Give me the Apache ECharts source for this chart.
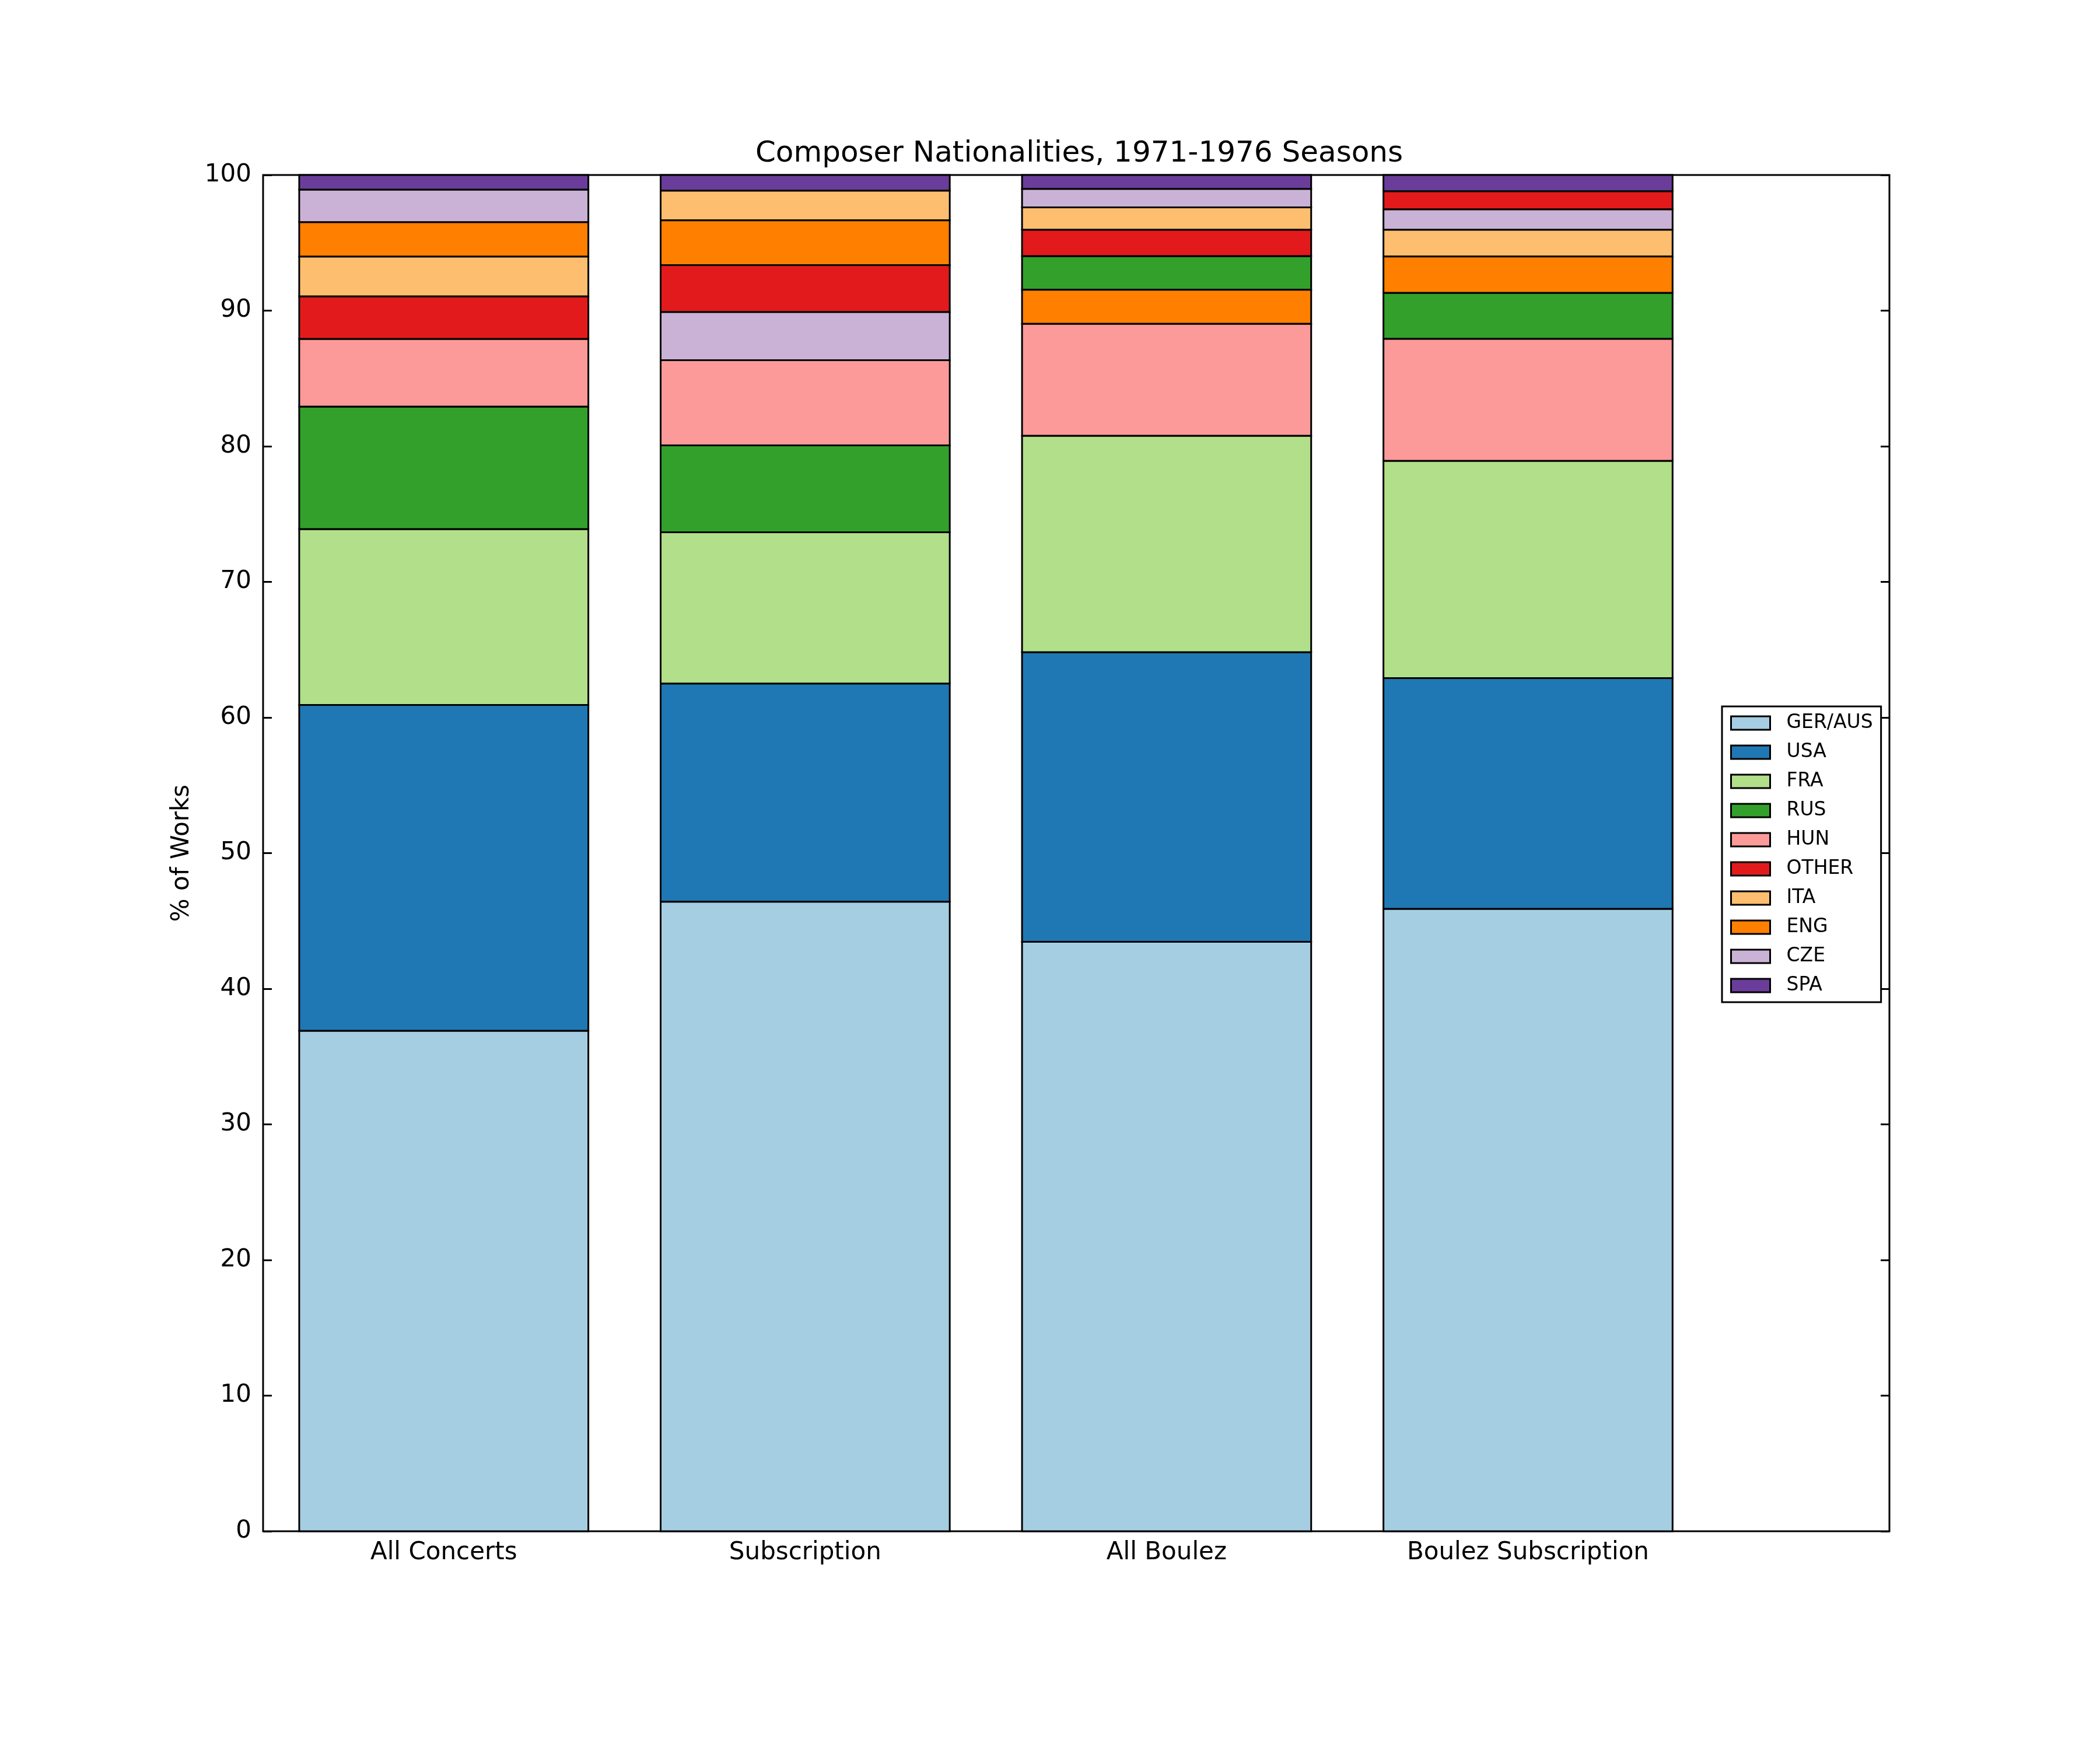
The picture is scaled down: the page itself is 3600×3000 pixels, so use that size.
<!DOCTYPE html>
<html lang="en">

<head>
  <meta charset="UTF-8">
  <title>Composer Nationalities</title>
  <script src="https://cdn.jsdelivr.net/npm/echarts@6/dist/echarts.min.js"></script>
  <style>
    html, body { margin: 0; padding: 0; background: #fff; }
    #main { width: 3600px; height: 3000px; }
  </style>
</head>

<body>
  <div id="main"></div>

  <script>
    // categories along x
    let categories = ['All Concerts', 'Subscription', 'All Boulez', 'Boulez Subscription']

    // % of works per nationality, one value per category
    let gerAus = [36.90, 46.42, 43.46, 45.89]
    let usa    = [24.02, 16.09, 21.36, 17.01]
    let fra    = [12.97, 11.15, 15.95, 16.02]
    let rus    = [9.03, 6.40, 2.48, 3.40]
    let hun    = [4.99, 6.28, 8.26, 8.99]
    let other  = [3.14, 3.46, 1.95, 1.35]
    let ita    = [2.94, 2.19, 1.64, 1.98]
    let eng    = [2.54, 3.31, 2.51, 2.68]
    let cze    = [2.40, 3.55, 1.37, 1.49]
    let spa    = [1.07, 1.15, 1.02, 1.19]

    let names = ['GER/AUS', 'USA', 'FRA', 'RUS', 'HUN', 'OTHER', 'ITA', 'ENG', 'CZE', 'SPA']
    let values = [gerAus, usa, fra, rus, hun, other, ita, eng, cze, spa]
    let colors = ['#a6cee3', '#1f78b4', '#b2df8a', '#33a02c', '#fb9a99',
                  '#e31a1c', '#fdbf6f', '#ff7f00', '#cab2d6', '#6a3d9a']

    let yTicks = [0, 10, 20, 30, 40, 50, 60, 70, 80, 90, 100]

    // each bar is stacked largest-first from the bottom, so the order differs per bar
    let ranges = names.map(() => [])
    categories.forEach((c, ci) => {
      let order = names.map((n, k) => k).sort((a, b) => values[b][ci] - values[a][ci])
      let base = 0
      order.forEach(k => {
        ranges[k][ci] = [ci + 0.5, base, base + values[k][ci]]
        base += values[k][ci]
      })
    })

    let font = 'DejaVu Sans'

    let series = names.map((n, k) => ({
      name: n,
      type: 'custom',
      itemStyle: { color: colors[k], borderColor: '#000', borderWidth: 3 },
      encode: { x: 0, y: [1, 2] },
      data: ranges[k],
      renderItem: (params, api) => {
        let x = api.value(0)
        let p0 = api.coord([x, api.value(1)])
        let p1 = api.coord([x, api.value(2)])
        let bw = api.size([0.8, 0])[0]
        return {
          type: 'rect',
          shape: { x: p0[0] - bw / 2, y: p1[1], width: bw, height: p0[1] - p1[1] },
          style: { fill: colors[k], stroke: '#000', lineWidth: 3 }
        }
      }
    }))

    let chart = echarts.init(document.getElementById('main'), null, { renderer: 'canvas' })

    chart.setOption({
      animation: false,
      backgroundColor: '#fff',
      textStyle: { fontFamily: font },
      title: {
        text: 'Composer Nationalities, 1971-1976 Seasons',
        left: 451 + 2788 / 2,
        textAlign: 'center',
        top: 234,
        textStyle: { fontFamily: font, fontSize: 50, fontWeight: 'normal', color: '#000' }
      },
      grid: {
        left: 451, top: 300, right: 361, bottom: 375,
        show: true, borderColor: '#000', borderWidth: 3, backgroundColor: 'transparent'
      },
      legend: {
        orient: 'vertical',
        left: 2952,
        top: 1211,
        padding: [12, 14, 12, 14],
        borderColor: '#000',
        borderWidth: 3,
        backgroundColor: '#fff',
        itemWidth: 67,
        itemHeight: 23,
        itemGap: 17,
        icon: 'rect',
        itemStyle: { borderColor: '#000', borderWidth: 3 },
        data: names,
        textStyle: { fontFamily: font, fontSize: 33, color: '#000', padding: [0, 0, 0, 23] }
      },
      xAxis: {
        type: 'value',
        min: 0,
        max: 4.5,
        interval: 0.5,
        axisLine: { show: false },
        axisTick: { show: false },
        splitLine: { show: false },
        axisLabel: {
          fontFamily: font, fontSize: 42, color: '#000', margin: 16,
          showMinLabel: true, showMaxLabel: true,
          formatter: v => {
            let i = v - 0.5
            return Number.isInteger(i) && i >= 0 && i < categories.length ? categories[i] : ''
          }
        }
      },
      yAxis: [{
        type: 'value',
        min: yTicks[0],
        max: yTicks[yTicks.length - 1],
        interval: 10,
        name: '% of Works',
        nameLocation: 'middle',
        nameRotate: 90,
        nameGap: 118,
        nameTextStyle: { fontFamily: font, fontSize: 42, color: '#000' },
        axisLine: { show: false },
        axisTick: { show: true, inside: true, length: 15, lineStyle: { color: '#000', width: 3 } },
        splitLine: { show: false },
        axisLabel: { fontFamily: font, fontSize: 42, color: '#000', margin: 20 }
      }, {
        type: 'value',
        position: 'right',
        min: yTicks[0],
        max: yTicks[yTicks.length - 1],
        interval: 10,
        axisLine: { show: false },
        axisTick: { show: true, inside: true, length: 15, lineStyle: { color: '#000', width: 3 } },
        splitLine: { show: false },
        axisLabel: { show: false }
      }],
      series: series
    })
  </script>
</body>

</html>
